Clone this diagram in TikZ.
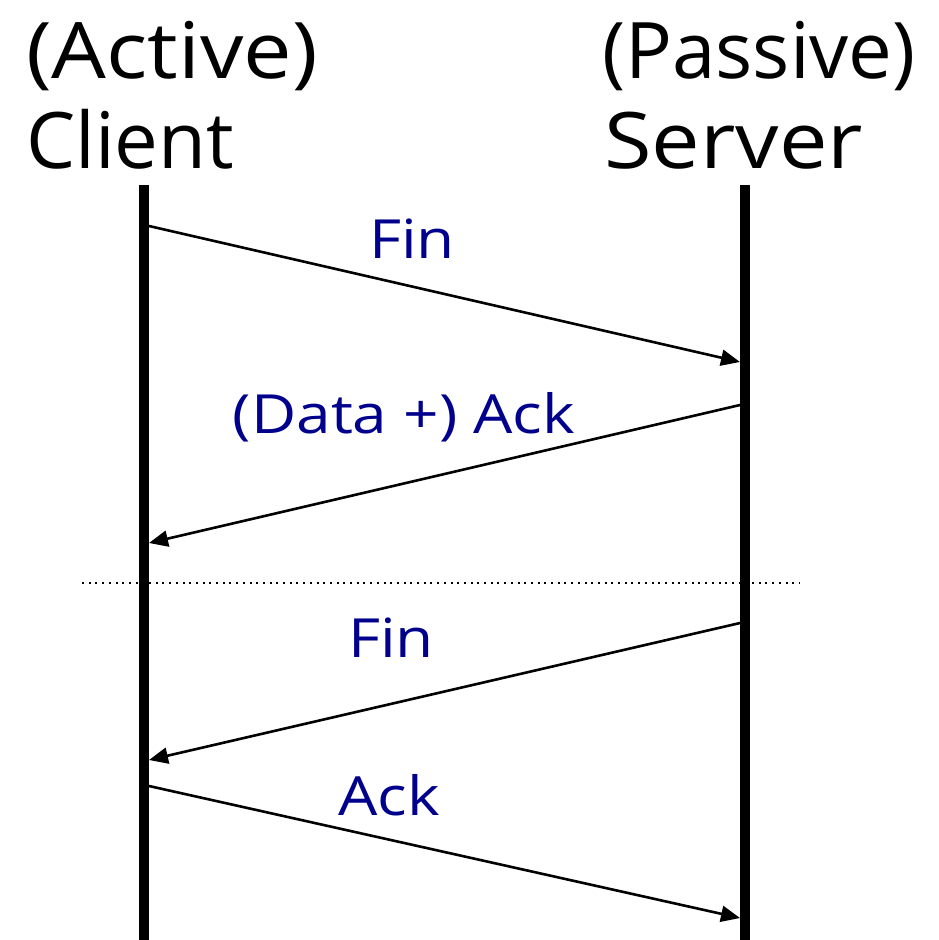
\documentclass[tikz,border=0pt]{standalone}
\usepackage{fontspec}
\setmainfont{Open Sans}
\newfontfamily\headfont{Open Sans}
\newfontfamily\headwidefont[FakeStretch=1.11]{Open Sans}
\newfontfamily\lblfont[FakeStretch=1.15]{Open Sans}
\usetikzlibrary{arrows.meta}
\definecolor{msgblue}{RGB}{0,0,140}
\begin{document}
\begin{tikzpicture}[x=1pt,y=-1pt,
  lifeline/.style={line width=10pt},
  msg/.style={line width=2.6pt,-{Triangle[length=19pt,width=16pt]}},
  head/.style={inner sep=0pt,anchor=base west,font=\headfont\fontsize{78}{80}\selectfont},
  headwide/.style={head,font=\headwidefont\fontsize{78}{80}\selectfont},
  lbl/.style={inner sep=0pt,anchor=base,text=msgblue,font=\lblfont\fontsize{54}{56}\selectfont},
  sep/.style={line width=2pt,dash pattern=on 2pt off 4.7pt}]
\useasboundingbox (0,0) rectangle (938,940);

% headers
\node[headwide] (acttxt) at (26,78) {(Active)};
\node[head] (clitxt) at (26,168) {Client};
\node[head] (pastxt) at (602,78) {(Passive)};
\node[headwide] (srvtxt) at (604,168) {Server};

% lifelines
\coordinate (ctop) at (144,185);
\coordinate (cbot) at (144,940);
\coordinate (stop) at (745,185);
\coordinate (sbot) at (745,940);
\draw[lifeline] (ctop) -- (cbot);
\draw[lifeline] (stop) -- (sbot);

% message end points on the lifeline edges
\coordinate (c1) at (149,226);
\coordinate (s1) at (740,362);
\coordinate (s2) at (740,405);
\coordinate (c2) at (149,543);
\coordinate (s3) at (740,623);
\coordinate (c3) at (149,760);
\coordinate (c4) at (149,786);
\coordinate (s4) at (740,918);

\draw[msg] (c1) -- (s1);
\draw[msg] (s2) -- (c2);
\draw[msg] (s3) -- (c3);
\draw[msg] (c4) -- (s4);

% separator
\coordinate (dl) at (82,583);
\coordinate (dr) at (800,583);
\draw[sep] (dl) -- (dr);

% labels
\node[lbl] (fin1) at (412,258) {Fin};
\node[lbl] (dack) at (404,433) {(Data +) Ack};
\node[lbl] (fin2) at (391,657) {Fin};
\node[lbl] (ack) at (389,815) {Ack};
\end{tikzpicture}
\end{document}
